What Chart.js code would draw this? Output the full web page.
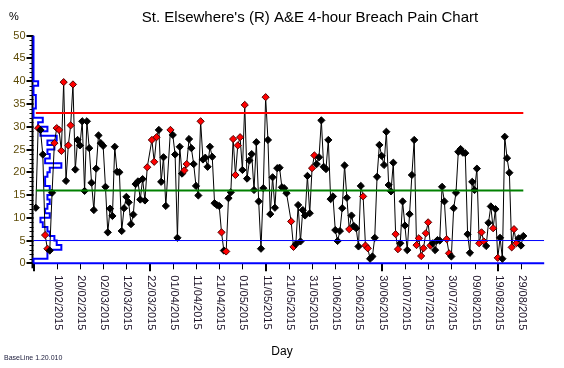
<!DOCTYPE html>
<html>
<head>
<meta charset="utf-8">
<script src="https://cdn.jsdelivr.net/npm/chart.js@4.4.1/dist/chart.umd.min.js"></script>
<style>
  body { margin: 0; background: #fff; }
  #wrap { width: 564px; height: 368px; }
</style>
</head>
<body>
<div id="wrap"><canvas id="painChart" width="564" height="368"></canvas></div>
<script>
// % breaching 4 hours, one value per day starting 01/02/2015 (day 1), null = not readable
var breachPct = [
  12.2, 29.7, 29.3, 23.9, 6.2, 3.2, 2.8, 15.5, 26.4, 29.7,
  29.3, 24.7, 39.8, 18.1, 25.9, 30.3, 39.3, 20.6, 27.1, 25.9,
  31.2, 15.9, 31.2, 25.3, 17.7, 11.7, 20.8, 28.1, 26.4, 25.8,
  16.8, 6.8, 12, 10.4, 25.6, 20.1, 20, 7.1, 12.1, 14.6,
  13.4, 8.6, 10.7, 17.4, 18, 14, 18.5, 13.8, 21.1, null,
  27.1, 22.3, 27.7, 29.3, 17.9, 23.3, 12.6, null, 29.3, 28.2,
  23.9, 5.6, 25.6, 19.7, 20.4, 21.8, 27.3, 25.3, 21.8, 17,
  14.9, 31.2, 22.8, 23.2, 21.2, 25.6, 23.4, 13.2, 12.8, 12.6,
  6.8, 2.8, 2.6, 14.3, 15.6, 27.3, 19.4, 25.9, 27.7, 20.5,
  34.8, 18.6, 22.6, 24, 16.1, 26.6, 13.6, 3.2, 16.5, 36.5,
  27.1, 10.8, 18.9, 12.2, 20.9, 21, 16.7, 16.5, 15.4, null,
  9.2, 3.6, 4.2, 12.8, 4.8, 11.7, 10.5, 19.2, 11.0, 20.9,
  23.7, 21.8, 23.3, 31.4, 21.2, 20.7, 27.1, 14.1, 14.7, 7.3,
  4.9, 7.1, 12.1, 21.5, 14.4, 7.5, 10.5, 8.2, 7.7, 3.7,
  17, 14.7, 3.9, 3.3, 1, 1.5, 5.6, 19, 26, 23.6,
  21.6, 28.9, 17.2, 15.8, 22.1, 6.4, 3.1, 4.4, 13.6, 8.3,
  2.9, 10.8, 19.4, 27.1, 4, 5.5, 1.6, 3.3, 6.6, 9,
  3.9, 4.4, 2.9, 5.1, 5, 16.8, 13.6, 5.3, 2.2, 1.5,
  12.1, 15.5, 24.5, 25.1, 24.3, 24.2, 6.4, 2.3, 17.9, 16.1,
  20.8, 4.4, 6.8, 4.8, 3.8, 8.9, 12.5, 7.7, 11.9, 1.2,
  5.6, 1, 27.8, 23.1, 19.9, 3.5, 7.5, 4.4, 5.5, 3.9,
  6
];
// days shown with a red marker
var flaggedDays = [2, 5, 6, 9, 10, 11, 12, 13, 15, 16, 17, 49, 51, 52, 53, 59, 65, 66, 72,
  81, 83, 86, 87, 88, 89, 91, 100, 111, 112, 120, 121, 136, 142, 143, 144, 156, 157,
  165, 166, 167, 168, 169, 170, 171, 178, 179, 192, 193, 194, 198, 200, 206, 207, 208];

var upperLimit = 33;
var centreLine = 16;
var lowerLimit = 5;

// distribution of daily values, bins 0-1, 1-2, ... 39-40 (drawn against the day axis)
var histCounts = [0, 6, 6, 12, 10, 9, 7, 6, 4, 3, 7, 5, 6, 7, 6, 8, 7, 5, 5, 6,
  7, 12, 5, 7, 6, 9, 6, 10, 3, 6, 2, 4, 0, 0, 1, 1, 1, 0, 0, 2];

var dayMax = 220;
var yMax = 50;
var tickDays = [10, 20, 30, 40, 50, 60, 70, 80, 90, 100, 110, 120, 130, 140, 150, 160, 170, 180, 190, 200, 210];
var tickLabels = ['10/02/2015', '20/02/2015', '02/03/2015', '12/03/2015', '22/03/2015', '01/04/2015',
  '11/04/2015', '21/04/2015', '01/05/2015', '11/05/2015', '21/05/2015', '31/05/2015', '10/06/2015',
  '20/06/2015', '30/06/2015', '10/07/2015', '20/07/2015', '30/07/2015', '09/08/2015', '19/08/2015', '29/08/2015'];
var majorDays = [0, 50, 100, 150, 200];
var yTicks = [0, 5, 10, 15, 20, 25, 30, 35, 40, 45, 50];

var seriesPts = breachPct.map(function (v, i) { return { x: i + 1, y: v }; });
var lastDay = breachPct.length;

var histPts = [{ x: 0, y: 0 }];
histCounts.forEach(function (c, i) {
  histPts.push({ x: c, y: i });
  histPts.push({ x: c, y: i + 1 });
});
histPts.push({ x: 0, y: histCounts.length });
histPts.push({ x: 0, y: yMax });

var FONT = '"Liberation Sans", Arial, sans-serif';

var axesPlugin = {
  id: 'painAxes',
  beforeDatasetsDraw: function (chart) {
    var ctx = chart.ctx, xs = chart.scales.x, ys = chart.scales.y;
    var left = xs.getPixelForValue(0), right = xs.getPixelForValue(dayMax);
    var bottom = ys.getPixelForValue(0), top = ys.getPixelForValue(yMax);
    ctx.save();
    // y axis + ticks
    ctx.strokeStyle = '#000';
    ctx.lineWidth = 2;
    ctx.beginPath();
    ctx.moveTo(left - 1, top);
    ctx.lineTo(left - 1, bottom + 5);
    ctx.stroke();
    for (var v = 0; v <= yMax; v++) {
      var py = Math.round(ys.getPixelForValue(v));
      var major = v % 5 == 0;
      ctx.lineWidth = major ? 2 : 1;
      ctx.beginPath();
      ctx.moveTo(left - (major ? 7 : 4), major ? py : py + 0.5);
      ctx.lineTo(left, major ? py : py + 0.5);
      ctx.stroke();
    }
    ctx.fillStyle = '#5e4c08';
    ctx.font = '11px ' + FONT;
    ctx.textAlign = 'right';
    ctx.textBaseline = 'middle';
    yTicks.forEach(function (t) {
      ctx.fillText(String(t), left - 8, ys.getPixelForValue(t));
    });
    // x axis + ticks
    ctx.strokeStyle = '#000';
    majorDays.forEach(function (d) {
      var px = Math.round(xs.getPixelForValue(d));
      ctx.lineWidth = 2;
      ctx.beginPath();
      ctx.moveTo(px, bottom);
      ctx.lineTo(px, bottom + 8);
      ctx.stroke();
    });
    tickDays.forEach(function (d) {
      var px = Math.round(xs.getPixelForValue(d)) + 0.5;
      ctx.lineWidth = 1;
      ctx.beginPath();
      ctx.moveTo(px, bottom);
      ctx.lineTo(px, bottom + 6);
      ctx.stroke();
    });
    ctx.strokeStyle = '#0000ff';
    ctx.lineWidth = 2;
    ctx.beginPath();
    ctx.moveTo(left, bottom);
    ctx.lineTo(right, bottom);
    ctx.stroke();
    ctx.fillStyle = '#1e1428';
    ctx.font = '11px ' + FONT;
    ctx.textAlign = 'left';
    ctx.textBaseline = 'middle';
    tickDays.forEach(function (d, i) {
      ctx.save();
      ctx.translate(xs.getPixelForValue(d) + 1, bottom + 12);
      ctx.rotate(Math.PI / 2);
      ctx.fillText(tickLabels[i], 0, 0);
      ctx.restore();
    });
    ctx.restore();
  },
  afterDraw: function (chart) {
    var ctx = chart.ctx;
    ctx.save();
    ctx.fillStyle = '#000';
    ctx.textBaseline = 'middle';
    ctx.textAlign = 'center';
    ctx.font = '15px ' + FONT;
    ctx.fillText("St. Elsewhere's (R) A&E 4-hour Breach Pain Chart", 310, 18);
    ctx.font = '12px ' + FONT;
    ctx.fillText('Day', 282, 352);
    ctx.textAlign = 'left';
    ctx.font = '11px ' + FONT;
    ctx.fillText('%', 9, 17);
    ctx.font = '7px ' + FONT;
    ctx.fillStyle = '#1a1a3a';
    ctx.fillText('BaseLine 1.20.010', 4, 358);
    ctx.restore();
  }
};

new Chart(document.getElementById('painChart'), {
  type: 'scatter',
  data: {
    datasets: [
      {
        label: 'Upper',
        data: [{ x: 1, y: upperLimit }, { x: lastDay, y: upperLimit }],
        showLine: true, borderColor: '#ff0000', borderWidth: 2, pointRadius: 0, order: 1
      },
      {
        label: 'Centre',
        data: [{ x: 1, y: centreLine }, { x: lastDay, y: centreLine }],
        showLine: true, borderColor: '#008000', borderWidth: 2, pointRadius: 0, order: 1
      },
      {
        label: 'Lower',
        data: [{ x: 0, y: lowerLimit }, { x: dayMax, y: lowerLimit }],
        showLine: true, borderColor: '#0000ff', borderWidth: 1, pointRadius: 0, order: 1
      },
      {
        label: 'Breach %',
        data: seriesPts,
        showLine: true,
        spanGaps: true,
        borderColor: '#000',
        borderWidth: 1,
        pointStyle: 'rectRot',
        pointRadius: 3.6,
        pointBorderWidth: 1,
        pointBackgroundColor: function (c) {
          return c.raw && flaggedDays.indexOf(c.raw.x) >= 0 ? '#ff0000' : '#000';
        },
        pointBorderColor: function (c) {
          return c.raw && flaggedDays.indexOf(c.raw.x) >= 0 ? '#500000' : '#000';
        },
        order: 2
      },
      {
        label: 'Distribution',
        data: histPts,
        showLine: true,
        borderColor: '#0000ff',
        borderWidth: 2,
        pointRadius: 0,
        clip: false,
        order: 3
      }
    ]
  },
  options: {
    responsive: false,
    animation: false,
    devicePixelRatio: 1,
    events: [],
    layout: { padding: { left: 33.5, right: 19.8, top: 35.7, bottom: 104.7 } },
    scales: {
      x: { type: 'linear', min: 0, max: dayMax, display: false },
      y: { type: 'linear', min: 0, max: yMax, display: false }
    },
    plugins: { legend: { display: false }, tooltip: { enabled: false } }
  },
  plugins: [axesPlugin]
});
</script>
</body>
</html>
